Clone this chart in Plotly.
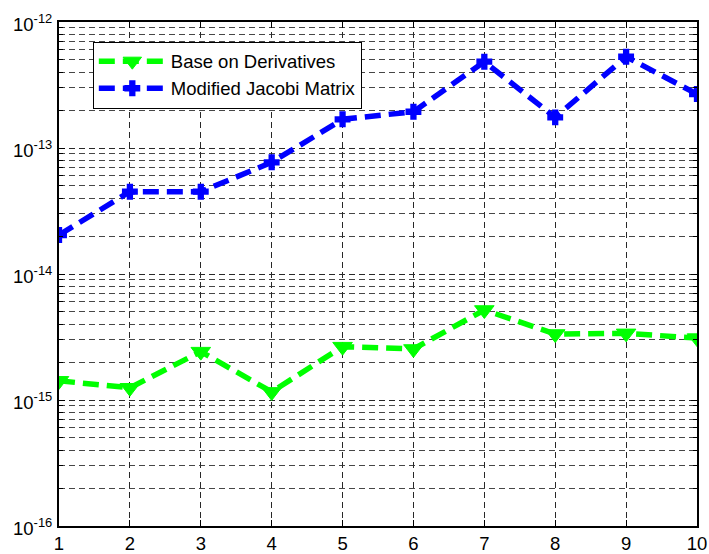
import plotly.graph_objects as go

# Iteration index and the two error series (log scale)
iterations = [1, 2, 3, 4, 5, 6, 7, 8, 9, 10]
derivative_err = [1.42e-15, 1.25e-15, 2.42e-15, 1.16e-15, 2.65e-15,
                  2.54e-15, 5.18e-15, 3.34e-15, 3.38e-15, 3.10e-15]
jacobi_err = [2.04e-14, 4.5e-14, 4.5e-14, 7.7e-14, 1.69e-13,
              1.94e-13, 4.84e-13, 1.75e-13, 5.3e-13, 2.68e-13]

series_names = ["Base on Derivatives", "Modified Jacobi Matrix"]

decade_exps = [-16, -15, -14, -13, -12]
decade_vals = [10.0 ** e for e in decade_exps]
decade_text = ["10<sup>%d</sup>" % e for e in decade_exps]
minor_vals = [m * 10.0 ** e for e in decade_exps[:-1] for m in range(2, 10)]

FONT = "Liberation Sans, Arial, Helvetica, sans-serif"
FS = 18.5

fig = go.Figure()
fig.add_trace(go.Scatter(
    x=iterations, y=derivative_err, name=series_names[0],
    mode="lines+markers",
    line=dict(color="#00FF00", width=5.5, dash="16px,8px"),
    marker=dict(symbol="triangle-down", size=17, color="#00FF00",
                line=dict(color="#00FF00", width=1)),
))
fig.add_trace(go.Scatter(
    x=iterations, y=jacobi_err, name=series_names[1],
    mode="lines+markers",
    line=dict(color="#0000FF", width=5.5, dash="16px,8px"),
    marker=dict(symbol="cross", size=12, color="#0000FF",
                line=dict(color="#0000FF", width=1.5)),
))

# Decade labels beside the left axis (log axis: annotation y is the exponent)
for e, txt in zip(decade_exps, decade_text):
    fig.add_annotation(
        xref="paper", x=0, xanchor="right", xshift=-5,
        yref="y", y=e, yanchor="middle", yshift=-1,
        text=txt, showarrow=False,
        font=dict(family=FONT, size=FS, color="black"),
    )

fig.update_layout(
    width=709, height=554,
    margin=dict(l=59, r=12, t=22, b=28),
    paper_bgcolor="white", plot_bgcolor="white",
    font=dict(family=FONT, size=FS, color="black"),
    showlegend=True,
    legend=dict(
        x=0.053, y=0.961, xanchor="left", yanchor="top",
        bgcolor="white", bordercolor="black", borderwidth=1,
        font=dict(family=FONT, size=FS, color="black"),
        tracegroupgap=0, itemwidth=67,
    ),
)

fig.update_xaxes(
    range=[1, 10], tickmode="array", tickvals=iterations,
    ticks="inside", ticklen=6, tickcolor="black", tickwidth=1,
    showline=True, linecolor="black", linewidth=2, mirror="ticks",
    showgrid=True, gridcolor="rgb(40,40,40)", griddash="6px,4px", gridwidth=1,
    zeroline=False, automargin=False,
    tickfont=dict(family=FONT, size=FS),
)
fig.update_yaxes(
    type="log", range=[-16, -12],
    tickmode="array", tickvals=decade_vals, showticklabels=False,
    ticks="inside", ticklen=6, tickcolor="black", tickwidth=1,
    showline=True, linecolor="black", linewidth=2, mirror="ticks",
    showgrid=True, gridcolor="rgb(40,40,40)", griddash="6px,4px", gridwidth=1,
    minor=dict(tickmode="array", tickvals=minor_vals,
               ticks="inside", ticklen=4, tickcolor="black",
               showgrid=True, gridcolor="rgb(70,70,70)",
               griddash="6px,4px", gridwidth=1),
    zeroline=False, automargin=False,
)

fig.write_html("out.html")
